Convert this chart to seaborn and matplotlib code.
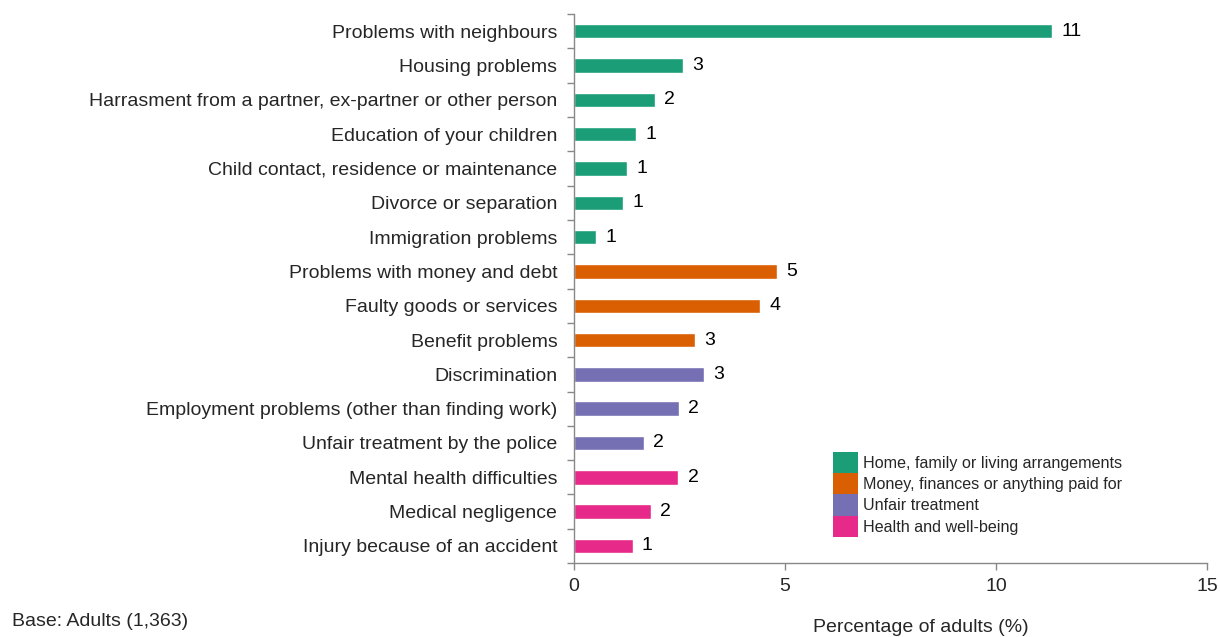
import numpy as np
import pandas as pd
import matplotlib
matplotlib.use("Agg")
import matplotlib.pyplot as plt
from matplotlib.patches import Patch
import seaborn as sns

categories = [
    "Problems with neighbours",
    "Housing problems",
    "Harrasment from a partner, ex-partner or other person",
    "Education of your children",
    "Child contact, residence or maintenance",
    "Divorce or separation",
    "Immigration problems",
    "Problems with money and debt",
    "Faulty goods or services",
    "Benefit problems",
    "Discrimination",
    "Employment problems (other than finding work)",
    "Unfair treatment by the police",
    "Mental health difficulties",
    "Medical negligence",
    "Injury because of an accident",
]
values = [11.33, 2.59, 1.92, 1.48, 1.26, 1.17, 0.52,
          4.81, 4.41, 2.86, 3.07, 2.49, 1.65, 2.47, 1.82, 1.39]
groups = (["Home, family or living arrangements"] * 7
          + ["Money, finances or anything paid for"] * 3
          + ["Unfair treatment"] * 3
          + ["Health and well-being"] * 3)
group_order = ["Home, family or living arrangements",
               "Money, finances or anything paid for",
               "Unfair treatment",
               "Health and well-being"]
colors = ["#1b9e77", "#d95f02", "#7570b3", "#e7298a"]
xticks = [0, 5, 10, 15]

df = pd.DataFrame({"category": categories, "value": values, "group": groups})

sns.set_theme(style="white")
plt.rcParams["font.family"] = ["Liberation Sans", "DejaVu Sans"]

FS = 14

fig = plt.figure(figsize=(12.2, 6.37), dpi=100)
ax = fig.add_axes([0.4705, 0.116, 0.5188, 0.862])

palette = dict(zip(group_order, colors))
sns.barplot(data=df, y="category", x="value", hue="group", hue_order=group_order,
            palette=palette, dodge=False, width=0.42, orient="h",
            legend=False, ax=ax, saturation=1)

for i, v in enumerate(values):
    ax.text(v + 0.22, i, f"{int(v + 0.5)}", va="center", ha="left",
            fontsize=FS, color="black")

ax.set_xlim(0, 15)
ax.set_ylim(len(categories) - 0.5, -0.5)
ax.set_xticks(xticks)
ax.set_xticklabels([str(t) for t in xticks], fontsize=FS)
ax.set_yticks(range(len(categories)))
ax.set_yticklabels(categories, fontsize=FS)
ax.set_yticks(np.arange(-0.5, len(categories)), minor=True)
ax.tick_params(axis="y", which="major", left=False, length=0, pad=12)
ax.tick_params(axis="y", which="minor", left=True, length=5, color="#888888", width=1)
ax.tick_params(axis="x", which="major", bottom=True, length=5, color="#888888", width=1, pad=6)
ax.set_xlabel("")
ax.set_ylabel("")
for s in ["top", "right"]:
    ax.spines[s].set_visible(False)
for s in ["left", "bottom"]:
    ax.spines[s].set_color("#888888")
    ax.spines[s].set_linewidth(1)

handles = [Patch(facecolor=c, edgecolor="none", label=g) for g, c in zip(group_order, colors)]
leg = ax.legend(handles=handles, loc="upper left", bbox_to_anchor=(0.409, 0.203), frameon=False,
                fontsize=11.6, labelspacing=0.0, handlelength=1.55, handleheight=1.66,
                handletextpad=0.3, borderaxespad=0, borderpad=0)

fig.text(921 / 1220, 1 - 627 / 637, "Percentage of adults (%)", ha="center", va="center", fontsize=FS)
fig.text(12 / 1220, 1 - 622 / 637, "Base: Adults (1,363)", ha="left", va="center", fontsize=FS)

fig.savefig("out.png", dpi=100)
